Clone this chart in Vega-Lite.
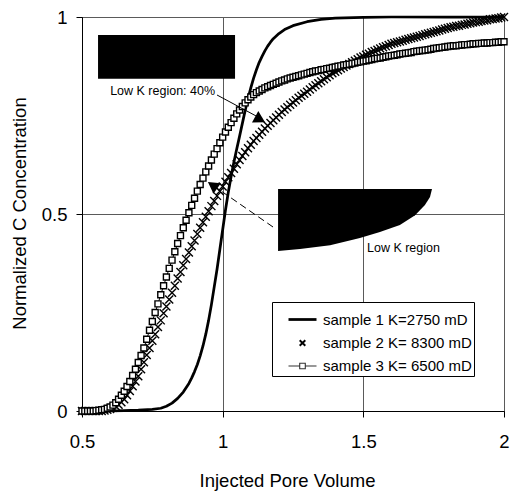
{
  "$schema": "https://vega.github.io/schema/vega-lite/v6.json",
  "width": 422,
  "height": 394,
  "autosize": {"type": "none"},
  "padding": {"left": 82, "top": 17, "right": 6, "bottom": 82},
  "background": "white",
  "config": {
    "font": "Liberation Sans",
    "view": {"stroke": "#222222", "strokeWidth": 1},
    "axis": {
      "labelFont": "Liberation Sans",
      "labelFontSize": 18.5,
      "labelColor": "black",
      "titleFont": "Liberation Sans",
      "titleFontSize": 18.5,
      "titleFontWeight": "normal",
      "titleColor": "black",
      "domainColor": "black",
      "tickColor": "black",
      "tickSize": 6,
      "gridColor": "#5a5a5a",
      "gridOpacity": 1,
      "gridWidth": 1,
      "labelFlush": false
    }
  },
  "datasets": {
    "curves": [
      {"k":1,"pv":0.50,"c":0},{"k":1,"pv":0.55,"c":0},{"k":1,"pv":0.60,"c":0},{"k":1,"pv":0.65,"c":0.001},{"k":1,"pv":0.70,"c":0.002},{"k":1,"pv":0.75,"c":0.004},{"k":1,"pv":0.78,"c":0.007},{"k":1,"pv":0.80,"c":0.012},{"k":1,"pv":0.82,"c":0.02},{"k":1,"pv":0.84,"c":0.032},{"k":1,"pv":0.86,"c":0.048},{"k":1,"pv":0.88,"c":0.07},{"k":1,"pv":0.89,"c":0.084},{"k":1,"pv":0.90,"c":0.1},{"k":1,"pv":0.91,"c":0.118},{"k":1,"pv":0.92,"c":0.14},{"k":1,"pv":0.93,"c":0.165},{"k":1,"pv":0.94,"c":0.195},{"k":1,"pv":0.95,"c":0.23},{"k":1,"pv":0.96,"c":0.27},{"k":1,"pv":0.97,"c":0.315},{"k":1,"pv":0.98,"c":0.36},{"k":1,"pv":0.99,"c":0.41},{"k":1,"pv":1.00,"c":0.46},{"k":1,"pv":1.01,"c":0.51},{"k":1,"pv":1.02,"c":0.555},{"k":1,"pv":1.03,"c":0.595},{"k":1,"pv":1.04,"c":0.632},{"k":1,"pv":1.05,"c":0.665},{"k":1,"pv":1.06,"c":0.697},{"k":1,"pv":1.07,"c":0.73},{"k":1,"pv":1.08,"c":0.763},{"k":1,"pv":1.09,"c":0.793},{"k":1,"pv":1.10,"c":0.82},{"k":1,"pv":1.11,"c":0.845},{"k":1,"pv":1.12,"c":0.866},{"k":1,"pv":1.13,"c":0.885},{"k":1,"pv":1.14,"c":0.9},{"k":1,"pv":1.15,"c":0.914},{"k":1,"pv":1.16,"c":0.926},{"k":1,"pv":1.17,"c":0.936},{"k":1,"pv":1.18,"c":0.945},{"k":1,"pv":1.20,"c":0.958},{"k":1,"pv":1.22,"c":0.968},{"k":1,"pv":1.25,"c":0.978},{"k":1,"pv":1.30,"c":0.988},{"k":1,"pv":1.35,"c":0.994},{"k":1,"pv":1.40,"c":0.997},{"k":1,"pv":1.50,"c":0.999},{"k":1,"pv":1.60,"c":1},{"k":1,"pv":1.80,"c":1},{"k":1,"pv":2.00,"c":1},

      {"k":2,"pv":0.50,"c":0},{"k":2,"pv":0.51,"c":0},{"k":2,"pv":0.52,"c":0},{"k":2,"pv":0.53,"c":0},{"k":2,"pv":0.54,"c":0},{"k":2,"pv":0.55,"c":0},{"k":2,"pv":0.56,"c":0},{"k":2,"pv":0.57,"c":0},{"k":2,"pv":0.58,"c":0.001},{"k":2,"pv":0.59,"c":0.003},
      {"k":2,"pv":0.60,"c":0.005},{"k":2,"pv":0.61,"c":0.008},{"k":2,"pv":0.62,"c":0.012},{"k":2,"pv":0.63,"c":0.016},{"k":2,"pv":0.64,"c":0.022},{"k":2,"pv":0.65,"c":0.03},{"k":2,"pv":0.66,"c":0.04},{"k":2,"pv":0.67,"c":0.051},{"k":2,"pv":0.68,"c":0.063},{"k":2,"pv":0.69,"c":0.075},
      {"k":2,"pv":0.70,"c":0.088},{"k":2,"pv":0.71,"c":0.106},{"k":2,"pv":0.72,"c":0.124},{"k":2,"pv":0.73,"c":0.142},{"k":2,"pv":0.74,"c":0.16},{"k":2,"pv":0.75,"c":0.178},{"k":2,"pv":0.76,"c":0.195},{"k":2,"pv":0.77,"c":0.213},{"k":2,"pv":0.78,"c":0.23},{"k":2,"pv":0.79,"c":0.248},
      {"k":2,"pv":0.80,"c":0.265},{"k":2,"pv":0.81,"c":0.283},{"k":2,"pv":0.82,"c":0.3},{"k":2,"pv":0.83,"c":0.318},{"k":2,"pv":0.84,"c":0.336},{"k":2,"pv":0.85,"c":0.353},{"k":2,"pv":0.86,"c":0.37},{"k":2,"pv":0.87,"c":0.386},{"k":2,"pv":0.88,"c":0.402},{"k":2,"pv":0.89,"c":0.418},
      {"k":2,"pv":0.90,"c":0.433},{"k":2,"pv":0.91,"c":0.449},{"k":2,"pv":0.92,"c":0.465},{"k":2,"pv":0.93,"c":0.479},{"k":2,"pv":0.94,"c":0.493},{"k":2,"pv":0.95,"c":0.507},{"k":2,"pv":0.96,"c":0.52},{"k":2,"pv":0.97,"c":0.533},{"k":2,"pv":0.98,"c":0.546},{"k":2,"pv":0.99,"c":0.558},
      {"k":2,"pv":1.00,"c":0.57},{"k":2,"pv":1.01,"c":0.582},{"k":2,"pv":1.02,"c":0.593},{"k":2,"pv":1.03,"c":0.604},{"k":2,"pv":1.04,"c":0.615},{"k":2,"pv":1.05,"c":0.626},{"k":2,"pv":1.06,"c":0.637},{"k":2,"pv":1.07,"c":0.647},{"k":2,"pv":1.08,"c":0.657},{"k":2,"pv":1.09,"c":0.667},
      {"k":2,"pv":1.10,"c":0.676},{"k":2,"pv":1.11,"c":0.685},{"k":2,"pv":1.12,"c":0.693},{"k":2,"pv":1.13,"c":0.701},{"k":2,"pv":1.14,"c":0.709},{"k":2,"pv":1.15,"c":0.717},{"k":2,"pv":1.16,"c":0.724},{"k":2,"pv":1.17,"c":0.731},{"k":2,"pv":1.18,"c":0.738},{"k":2,"pv":1.19,"c":0.745},
      {"k":2,"pv":1.20,"c":0.752},{"k":2,"pv":1.21,"c":0.759},{"k":2,"pv":1.22,"c":0.765},{"k":2,"pv":1.23,"c":0.771},{"k":2,"pv":1.24,"c":0.777},{"k":2,"pv":1.25,"c":0.783},{"k":2,"pv":1.26,"c":0.789},{"k":2,"pv":1.27,"c":0.795},{"k":2,"pv":1.28,"c":0.8},{"k":2,"pv":1.29,"c":0.805},
      {"k":2,"pv":1.30,"c":0.81},{"k":2,"pv":1.31,"c":0.816},{"k":2,"pv":1.32,"c":0.822},{"k":2,"pv":1.33,"c":0.827},{"k":2,"pv":1.34,"c":0.832},{"k":2,"pv":1.35,"c":0.837},{"k":2,"pv":1.36,"c":0.842},{"k":2,"pv":1.37,"c":0.847},{"k":2,"pv":1.38,"c":0.852},{"k":2,"pv":1.39,"c":0.857},
      {"k":2,"pv":1.40,"c":0.861},{"k":2,"pv":1.41,"c":0.865},{"k":2,"pv":1.42,"c":0.869},{"k":2,"pv":1.43,"c":0.873},{"k":2,"pv":1.44,"c":0.877},{"k":2,"pv":1.45,"c":0.881},{"k":2,"pv":1.46,"c":0.885},{"k":2,"pv":1.47,"c":0.889},{"k":2,"pv":1.48,"c":0.893},{"k":2,"pv":1.49,"c":0.897},
      {"k":2,"pv":1.50,"c":0.9},{"k":2,"pv":1.51,"c":0.904},{"k":2,"pv":1.52,"c":0.907},{"k":2,"pv":1.53,"c":0.911},{"k":2,"pv":1.54,"c":0.914},{"k":2,"pv":1.55,"c":0.917},{"k":2,"pv":1.56,"c":0.92},{"k":2,"pv":1.57,"c":0.923},{"k":2,"pv":1.58,"c":0.926},{"k":2,"pv":1.59,"c":0.929},
      {"k":2,"pv":1.60,"c":0.932},{"k":2,"pv":1.61,"c":0.934},{"k":2,"pv":1.62,"c":0.936},{"k":2,"pv":1.63,"c":0.938},{"k":2,"pv":1.64,"c":0.94},{"k":2,"pv":1.65,"c":0.942},{"k":2,"pv":1.66,"c":0.944},{"k":2,"pv":1.67,"c":0.946},{"k":2,"pv":1.68,"c":0.948},{"k":2,"pv":1.69,"c":0.95},
      {"k":2,"pv":1.70,"c":0.952},{"k":2,"pv":1.71,"c":0.954},{"k":2,"pv":1.72,"c":0.956},{"k":2,"pv":1.73,"c":0.958},{"k":2,"pv":1.74,"c":0.96},{"k":2,"pv":1.75,"c":0.962},{"k":2,"pv":1.76,"c":0.964},{"k":2,"pv":1.77,"c":0.966},{"k":2,"pv":1.78,"c":0.968},{"k":2,"pv":1.79,"c":0.97},
      {"k":2,"pv":1.80,"c":0.972},{"k":2,"pv":1.81,"c":0.974},{"k":2,"pv":1.82,"c":0.975},{"k":2,"pv":1.83,"c":0.977},{"k":2,"pv":1.84,"c":0.978},{"k":2,"pv":1.85,"c":0.98},{"k":2,"pv":1.86,"c":0.981},{"k":2,"pv":1.87,"c":0.983},{"k":2,"pv":1.88,"c":0.984},{"k":2,"pv":1.89,"c":0.986},
      {"k":2,"pv":1.90,"c":0.987},{"k":2,"pv":1.91,"c":0.988},{"k":2,"pv":1.92,"c":0.99},{"k":2,"pv":1.93,"c":0.991},{"k":2,"pv":1.94,"c":0.992},{"k":2,"pv":1.95,"c":0.994},{"k":2,"pv":1.96,"c":0.995},{"k":2,"pv":1.97,"c":0.996},{"k":2,"pv":1.98,"c":0.997},{"k":2,"pv":1.99,"c":0.999},
      {"k":2,"pv":2.00,"c":1},

      {"k":3,"pv":0.50,"c":0},{"k":3,"pv":0.51,"c":0},{"k":3,"pv":0.52,"c":0},{"k":3,"pv":0.53,"c":0},{"k":3,"pv":0.54,"c":0},{"k":3,"pv":0.55,"c":0.001},{"k":3,"pv":0.56,"c":0.002},{"k":3,"pv":0.57,"c":0.003},{"k":3,"pv":0.58,"c":0.004},{"k":3,"pv":0.59,"c":0.007},
      {"k":3,"pv":0.60,"c":0.01},{"k":3,"pv":0.61,"c":0.015},{"k":3,"pv":0.62,"c":0.021},{"k":3,"pv":0.63,"c":0.03},{"k":3,"pv":0.64,"c":0.04},{"k":3,"pv":0.65,"c":0.05},{"k":3,"pv":0.66,"c":0.062},{"k":3,"pv":0.67,"c":0.075},{"k":3,"pv":0.68,"c":0.09},{"k":3,"pv":0.69,"c":0.106},
      {"k":3,"pv":0.70,"c":0.123},{"k":3,"pv":0.71,"c":0.141},{"k":3,"pv":0.72,"c":0.16},{"k":3,"pv":0.73,"c":0.182},{"k":3,"pv":0.74,"c":0.205},{"k":3,"pv":0.75,"c":0.227},{"k":3,"pv":0.76,"c":0.25},{"k":3,"pv":0.77,"c":0.272},{"k":3,"pv":0.78,"c":0.295},{"k":3,"pv":0.79,"c":0.318},
      {"k":3,"pv":0.80,"c":0.34},{"k":3,"pv":0.81,"c":0.362},{"k":3,"pv":0.82,"c":0.383},{"k":3,"pv":0.83,"c":0.404},{"k":3,"pv":0.84,"c":0.425},{"k":3,"pv":0.85,"c":0.445},{"k":3,"pv":0.86,"c":0.465},{"k":3,"pv":0.87,"c":0.484},{"k":3,"pv":0.88,"c":0.503},{"k":3,"pv":0.89,"c":0.522},
      {"k":3,"pv":0.90,"c":0.54},{"k":3,"pv":0.91,"c":0.558},{"k":3,"pv":0.92,"c":0.575},{"k":3,"pv":0.93,"c":0.591},{"k":3,"pv":0.94,"c":0.607},{"k":3,"pv":0.95,"c":0.622},{"k":3,"pv":0.96,"c":0.637},{"k":3,"pv":0.97,"c":0.652},{"k":3,"pv":0.98,"c":0.666},{"k":3,"pv":0.99,"c":0.681},
      {"k":3,"pv":1.00,"c":0.695},{"k":3,"pv":1.01,"c":0.708},{"k":3,"pv":1.02,"c":0.72},{"k":3,"pv":1.03,"c":0.732},{"k":3,"pv":1.04,"c":0.743},{"k":3,"pv":1.05,"c":0.754},{"k":3,"pv":1.06,"c":0.764},{"k":3,"pv":1.07,"c":0.773},{"k":3,"pv":1.08,"c":0.782},{"k":3,"pv":1.09,"c":0.79},
      {"k":3,"pv":1.10,"c":0.797},{"k":3,"pv":1.11,"c":0.803},{"k":3,"pv":1.12,"c":0.808},{"k":3,"pv":1.13,"c":0.812},{"k":3,"pv":1.14,"c":0.816},{"k":3,"pv":1.15,"c":0.82},{"k":3,"pv":1.16,"c":0.823},{"k":3,"pv":1.17,"c":0.826},{"k":3,"pv":1.18,"c":0.829},{"k":3,"pv":1.19,"c":0.832},
      {"k":3,"pv":1.20,"c":0.835},{"k":3,"pv":1.21,"c":0.838},{"k":3,"pv":1.22,"c":0.84},{"k":3,"pv":1.23,"c":0.843},{"k":3,"pv":1.24,"c":0.845},{"k":3,"pv":1.25,"c":0.847},{"k":3,"pv":1.26,"c":0.849},{"k":3,"pv":1.27,"c":0.851},{"k":3,"pv":1.28,"c":0.853},{"k":3,"pv":1.29,"c":0.855},
      {"k":3,"pv":1.30,"c":0.857},{"k":3,"pv":1.31,"c":0.859},{"k":3,"pv":1.32,"c":0.861},{"k":3,"pv":1.33,"c":0.863},{"k":3,"pv":1.34,"c":0.864},{"k":3,"pv":1.35,"c":0.866},{"k":3,"pv":1.36,"c":0.867},{"k":3,"pv":1.37,"c":0.869},{"k":3,"pv":1.38,"c":0.87},{"k":3,"pv":1.39,"c":0.872},
      {"k":3,"pv":1.40,"c":0.873},{"k":3,"pv":1.41,"c":0.875},{"k":3,"pv":1.42,"c":0.876},{"k":3,"pv":1.43,"c":0.878},{"k":3,"pv":1.44,"c":0.879},{"k":3,"pv":1.45,"c":0.88},{"k":3,"pv":1.46,"c":0.882},{"k":3,"pv":1.47,"c":0.883},{"k":3,"pv":1.48,"c":0.885},{"k":3,"pv":1.49,"c":0.886},
      {"k":3,"pv":1.50,"c":0.888},{"k":3,"pv":1.51,"c":0.889},{"k":3,"pv":1.52,"c":0.891},{"k":3,"pv":1.53,"c":0.892},{"k":3,"pv":1.54,"c":0.894},{"k":3,"pv":1.55,"c":0.895},{"k":3,"pv":1.56,"c":0.896},{"k":3,"pv":1.57,"c":0.898},{"k":3,"pv":1.58,"c":0.899},{"k":3,"pv":1.59,"c":0.901},
      {"k":3,"pv":1.60,"c":0.902},{"k":3,"pv":1.61,"c":0.903},{"k":3,"pv":1.62,"c":0.904},{"k":3,"pv":1.63,"c":0.906},{"k":3,"pv":1.64,"c":0.907},{"k":3,"pv":1.65,"c":0.908},{"k":3,"pv":1.66,"c":0.909},{"k":3,"pv":1.67,"c":0.91},{"k":3,"pv":1.68,"c":0.912},{"k":3,"pv":1.69,"c":0.913},
      {"k":3,"pv":1.70,"c":0.914},{"k":3,"pv":1.71,"c":0.915},{"k":3,"pv":1.72,"c":0.916},{"k":3,"pv":1.73,"c":0.917},{"k":3,"pv":1.74,"c":0.918},{"k":3,"pv":1.75,"c":0.92},{"k":3,"pv":1.76,"c":0.921},{"k":3,"pv":1.77,"c":0.922},{"k":3,"pv":1.78,"c":0.923},{"k":3,"pv":1.79,"c":0.924},
      {"k":3,"pv":1.80,"c":0.925},{"k":3,"pv":1.81,"c":0.926},{"k":3,"pv":1.82,"c":0.927},{"k":3,"pv":1.83,"c":0.927},{"k":3,"pv":1.84,"c":0.928},{"k":3,"pv":1.85,"c":0.929},{"k":3,"pv":1.86,"c":0.93},{"k":3,"pv":1.87,"c":0.93},{"k":3,"pv":1.88,"c":0.931},{"k":3,"pv":1.89,"c":0.932},
      {"k":3,"pv":1.90,"c":0.932},{"k":3,"pv":1.91,"c":0.933},{"k":3,"pv":1.92,"c":0.933},{"k":3,"pv":1.93,"c":0.934},{"k":3,"pv":1.94,"c":0.934},{"k":3,"pv":1.95,"c":0.935},{"k":3,"pv":1.96,"c":0.935},{"k":3,"pv":1.97,"c":0.936},{"k":3,"pv":1.98,"c":0.936},{"k":3,"pv":1.99,"c":0.937},
      {"k":3,"pv":2.00,"c":0.937}
    ],
    "lowk_zone": [
      {"pv":1.197,"c":0.406},{"pv":1.275,"c":0.411},{"pv":1.382,"c":0.421},{"pv":1.488,"c":0.439},{"pv":1.559,"c":0.454},{"pv":1.630,"c":0.472},{"pv":1.684,"c":0.497},{"pv":1.719,"c":0.523},{"pv":1.737,"c":0.543},{"pv":1.744,"c":0.5635}
    ]
  },
  "layer": [
    {
      "data": {"name": "curves"},
      "transform": [{"filter": "datum.k === 1"}],
      "mark": {"type": "line", "color": "black", "strokeWidth": 2.75, "strokeJoin": "round"},
      "encoding": {
        "x": {
          "field": "pv", "type": "quantitative",
          "scale": {"domain": [0.5, 2], "nice": false, "zero": false},
          "axis": {
            "values": [0.5, 1, 1.5, 2], "format": ".1~f", "title": "Injected Pore Volume",
            "labelPadding": 15, "titleX": 205, "titleY": 75, "titleBaseline": "alphabetic", "grid": true
          }
        },
        "y": {
          "field": "c", "type": "quantitative",
          "scale": {"domain": [0, 1], "nice": false},
          "axis": {
            "values": [0, 0.5, 1], "format": ".1~f", "title": "Normalized C Concentration",
            "labelPadding": 9, "titleX": -57, "titleY": 196, "titleBaseline": "alphabetic", "grid": true
          }
        }
      }
    },
    {
      "data": {"name": "curves"},
      "transform": [{"filter": "datum.k === 2"}],
      "mark": {"type": "point", "shape": "M-1,-1L1,1M-1,1L1,-1", "filled": false, "stroke": "black", "strokeWidth": 1.4, "size": 64, "opacity": 1},
      "encoding": {
        "x": {"field": "pv", "type": "quantitative"},
        "y": {"field": "c", "type": "quantitative"}
      }
    },
    {
      "data": {"name": "curves"},
      "transform": [{"filter": "datum.k === 3"}],
      "mark": {"type": "line", "color": "black", "strokeWidth": 1},
      "encoding": {
        "x": {"field": "pv", "type": "quantitative"},
        "y": {"field": "c", "type": "quantitative"}
      }
    },
    {
      "data": {"name": "curves"},
      "transform": [{"filter": "datum.k === 3"}],
      "mark": {"type": "point", "shape": "square", "filled": true, "fill": "white", "stroke": "black", "strokeWidth": 1.4, "size": 36, "opacity": 1},
      "encoding": {
        "x": {"field": "pv", "type": "quantitative"},
        "y": {"field": "c", "type": "quantitative"}
      }
    },
    {
      "description": "Key for the three samples; the legend reads its symbols from these scales.",
      "data": {"values": []},
      "mark": {"type": "point", "filled": true, "opacity": 1},
      "encoding": {
        "x": {"field": "pv", "type": "quantitative"},
        "y": {"field": "c", "type": "quantitative"},
        "shape": {
          "field": "k", "type": "nominal",
          "scale": {"domain": [1, 2, 3], "range": ["M-1,0L1,0", "M-0.2,-0.2L0.2,0.2M-0.2,0.2L0.2,-0.2", "M-1,0L-0.2,0M0.2,0L1,0M-0.2,-0.2L0.2,-0.2L0.2,0.2L-0.2,0.2Z"]},
          "legend": {
            "orient": "none", "legendX": 190, "legendY": 285, "title": null,
            "padding": 2, "symbolOffset": 13, "labelOffset": 5, "symbolSize": 784, "rowPadding": 0,
            "symbolOpacity": 1,
            "strokeColor": "black", "fillColor": "white",
            "labelFont": "Liberation Sans", "labelFontSize": 15, "labelColor": "black", "labelLimit": 400,
            "labelExpr": "['sample 1 K=2750 mD', 'sample 2 K= 8300 mD', 'sample 3 K= 6500 mD'][datum.value - 1]"
          }
        },
        "fill": {
          "field": "k", "type": "nominal",
          "scale": {"domain": [1, 2, 3], "range": ["transparent", "transparent", "white"]}
        },
        "stroke": {
          "field": "k", "type": "nominal",
          "scale": {"domain": [1, 2, 3], "range": ["black", "black", "#333333"]}
        },
        "strokeWidth": {
          "field": "k", "type": "ordinal",
          "scale": {"domain": [1, 2, 3], "range": [2.75, 1.1, 1]}
        }
      }
    },
    {
      "data": {"values": [{}]},
      "mark": {"type": "rect", "color": "black"},
      "encoding": {
        "x": {"datum": 0.557, "type": "quantitative"},
        "x2": {"datum": 1.044},
        "y": {"datum": 0.843, "type": "quantitative"},
        "y2": {"datum": 0.954}
      }
    },
    {
      "data": {"name": "lowk_zone"},
      "mark": {"type": "area", "color": "black", "opacity": 1},
      "encoding": {
        "x": {"field": "pv", "type": "quantitative"},
        "y": {"field": "c", "type": "quantitative"},
        "y2": {"datum": 0.5635}
      }
    },
    {
      "data": {"values": [{}]},
      "mark": {"type": "rule", "color": "black", "strokeWidth": 1},
      "encoding": {
        "x": {"datum": 0.98, "type": "quantitative"},
        "x2": {"datum": 1.126},
        "y": {"datum": 0.802, "type": "quantitative"},
        "y2": {"datum": 0.746}
      }
    },
    {
      "data": {"values": [{}]},
      "mark": {"type": "rule", "color": "black", "strokeWidth": 1, "strokeDash": [7, 4]},
      "encoding": {
        "x": {"datum": 1.179, "type": "quantitative"},
        "x2": {"datum": 0.973},
        "y": {"datum": 0.467, "type": "quantitative"},
        "y2": {"datum": 0.569}
      }
    },
    {
      "data": {"values": [{}]},
      "mark": {"type": "point", "shape": "triangle-right", "filled": true, "color": "black", "opacity": 1, "size": 169, "angle": 29},
      "encoding": {
        "x": {"datum": 1.133, "type": "quantitative"},
        "y": {"datum": 0.74, "type": "quantitative"}
      }
    },
    {
      "data": {"values": [{}]},
      "mark": {"type": "point", "shape": "triangle-right", "filled": true, "color": "black", "opacity": 1, "size": 169, "angle": 215},
      "encoding": {
        "x": {"datum": 0.964, "type": "quantitative"},
        "y": {"datum": 0.573, "type": "quantitative"}
      }
    },
    {
      "data": {"values": [{}]},
      "mark": {"type": "text", "text": "Low K region: 40%", "align": "left", "baseline": "alphabetic", "font": "Liberation Sans", "fontSize": 12.5, "color": "black"},
      "encoding": {
        "x": {"datum": 0.6, "type": "quantitative"},
        "y": {"datum": 0.802, "type": "quantitative"}
      }
    },
    {
      "data": {"values": [{}]},
      "mark": {"type": "text", "text": "Low K region", "align": "left", "baseline": "alphabetic", "font": "Liberation Sans", "fontSize": 12.5, "color": "black"},
      "encoding": {
        "x": {"datum": 1.513, "type": "quantitative"},
        "y": {"datum": 0.404, "type": "quantitative"}
      }
    }
  ]
}
